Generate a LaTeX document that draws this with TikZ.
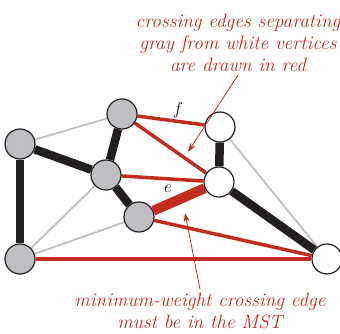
\documentclass[tikz,border=0pt]{standalone}
\usepackage{xcolor}
\usepackage{tikz}
\usetikzlibrary{arrows.meta, positioning, backgrounds}
\definecolor{cutred}{RGB}{192, 44, 30}
\definecolor{vertgray}{RGB}{190, 191, 195}
\definecolor{edgegray}{RGB}{192, 192, 192}
\definecolor{treeblack}{RGB}{35, 31, 32}

\begin{document}
\begin{tikzpicture}[
    x=1pt, y=1pt,
    grayvert/.style={circle, draw=treeblack, line width=1.2pt, fill=vertgray, minimum size=30pt, inner sep=0pt},
    whitevert/.style={circle, draw=treeblack, line width=1.2pt, fill=white, minimum size=30pt, inner sep=0pt},
    thinedge/.style={draw=edgegray, line width=1.8pt},
    treeedge/.style={draw=treeblack, line width=8.5pt},
    crossedge/.style={draw=cutred, line width=3.5pt},
    minedge/.style={draw=cutred, line width=10pt},
    note/.style={text=cutred, font=\fontsize{19.3}{22}\selectfont\itshape, align=center},
    pointer/.style={draw=cutred, line width=0.8pt, -{Stealth[length=9pt, width=6pt]}}
]
\useasboundingbox (0,0) rectangle (340,333);

% gray vertices
\node[grayvert] (a) at (20,189) {};
\node[grayvert] (b) at (122,219) {};
\node[grayvert] (c) at (106,158) {};
\node[grayvert] (d) at (139,116) {};
\node[grayvert] (g) at (20,74) {};

% white vertices
\node[whitevert] (w1) at (220,206) {};
\node[whitevert] (w2) at (219,151) {};
\node[whitevert] (w3) at (327,74) {};

\begin{scope}[on background layer]
% ordinary edges
\path[thinedge] (a) -- (b);
\path[thinedge] (c) -- (g);
\path[thinedge] (d) -- (g);
\path[thinedge] (w1) -- (w3);

% tree edges
\path[treeedge] (a) -- (c);
\path[treeedge] (a) -- (g);
\path[treeedge] (b) -- (c);
\path[treeedge] (c) -- (d);
\path[treeedge] (w1) -- (w2);
\path[treeedge] (w2) -- (w3);

% crossing edges
\path[crossedge] (b) -- (w1);
\path[crossedge] (b) -- (w2);
\path[crossedge] (c) -- (w2);
\path[crossedge] (d) -- (w3);
\path[crossedge] (g) -- (w3);
\path[minedge] (d) -- (w2);
\end{scope}

\node[font=\fontsize{19}{22}\selectfont] (flabel) at (178,223) {$f$};
\node[font=\fontsize{19}{22}\selectfont] (elabel) at (168,144) {$e$};

% notes
\node[note] (topnote) at (238,290) {crossing edges separating\\gray from white vertices\\are drawn in red};
\node[note] (botnote) at (200,22) {minimum-weight crossing edge\\must be in the MST};

\coordinate (toptip) at (188,181);
\coordinate (bottip) at (185,120);
\draw[pointer] (238,258) -- (toptip);
\draw[pointer] (200,44) -- (bottip);

\end{tikzpicture}
\end{document}
